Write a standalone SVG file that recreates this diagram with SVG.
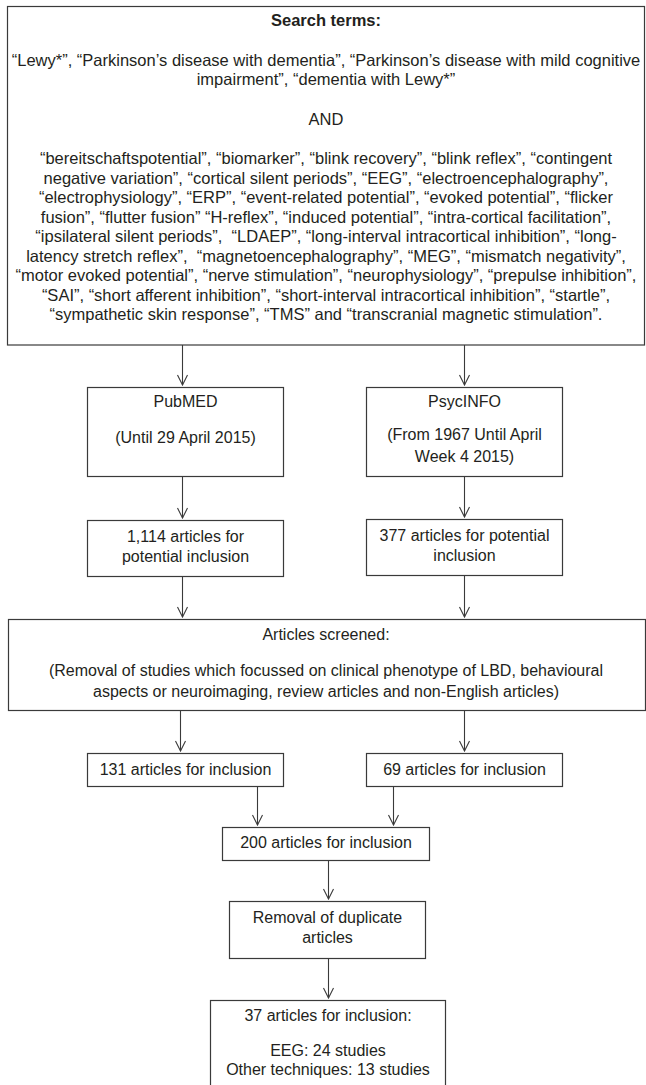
<svg xmlns="http://www.w3.org/2000/svg" width="646" height="1085" viewBox="0 0 646 1085">
<style>
.box{fill:#fff;stroke:#3a3a3a;stroke-width:1.2}
.t{font-family:"Liberation Sans",Arial,sans-serif;font-size:16px;fill:#231f20;text-anchor:middle}
.s{font-size:16.5px}
.b{font-weight:bold}
.c{stroke:#3a3a3a;stroke-width:1.1;fill:none;marker-end:url(#arr)}
</style>
<defs>
<marker id="arr" viewBox="0 0 12 12" refX="11" refY="6" markerWidth="12" markerHeight="12" markerUnits="userSpaceOnUse" orient="auto">
<path d="M1,1 L11,6 L1,11" fill="none" stroke="#3a3a3a" stroke-width="1.1"/>
</marker>
</defs>
<rect width="646" height="1085" fill="#fff"/>
<g id="search-terms">
<rect class="box" x="7.5" y="6.5" width="637" height="338.5"/>
<text class="t s b" x="326" y="26">Search terms:</text>
<text class="t s" x="326" y="65.5">“Lewy*”, “Parkinson’s disease with dementia”, “Parkinson’s disease with mild cognitive</text>
<text class="t s" x="326" y="85">impairment”, “dementia with Lewy*”</text>
<text class="t s" x="326" y="124.5">AND</text>
<text class="t s" x="326" y="164">“bereitschaftspotential”, “biomarker”, “blink recovery”, “blink reflex”, “contingent</text>
<text class="t s" x="326" y="183.5">negative variation”, “cortical silent periods”, “EEG”, “electroencephalography”,</text>
<text class="t s" x="326" y="203">“electrophysiology”, “ERP”, “event-related potential”, “evoked potential”, “flicker</text>
<text class="t s" x="326" y="222.5">fusion”, “flutter fusion” “H-reflex”, “induced potential”, “intra-cortical facilitation”,</text>
<text class="t s" x="326" y="242">“ipsilateral silent periods”, &#160;“LDAEP”, “long-interval intracortical inhibition”, “long-</text>
<text class="t s" x="326" y="261.5">latency stretch reflex”, &#160;“magnetoencephalography”, “MEG”, “mismatch negativity”,</text>
<text class="t s" x="326" y="281">“motor evoked potential”, “nerve stimulation”, “neurophysiology”, “prepulse inhibition”,</text>
<text class="t s" x="326" y="300.5">“SAI”, “short afferent inhibition”, “short-interval intracortical inhibition”, “startle”,</text>
<text class="t s" x="326" y="320">“sympathetic skin response”, “TMS” and “transcranial magnetic stimulation”.</text>
</g>
<g id="pubmed">
<rect class="box" x="87.5" y="387.5" width="196" height="89"/>
<text class="t" x="185.5" y="407">PubMED</text>
<text class="t" x="185.5" y="443">(Until 29 April 2015)</text>
</g>
<g id="psycinfo">
<rect class="box" x="366.5" y="387.5" width="196" height="89"/>
<text class="t" x="464.5" y="407">PsycINFO</text>
<text class="t" x="464.5" y="440">(From 1967 Until April</text>
<text class="t" x="464.5" y="462">Week 4 2015)</text>
</g>
<g id="pubmed-count">
<rect class="box" x="87.5" y="520.5" width="196" height="56"/>
<text class="t" x="185.5" y="542">1,114 articles for</text>
<text class="t" x="185.5" y="562">potential inclusion</text>
</g>
<g id="psycinfo-count">
<rect class="box" x="366.5" y="519.5" width="196" height="56"/>
<text class="t" x="464.5" y="541">377 articles for potential</text>
<text class="t" x="464.5" y="561">inclusion</text>
</g>
<g id="screened">
<rect class="box" x="8.5" y="619.5" width="637" height="91"/>
<text class="t" x="326" y="640">Articles screened:</text>
<text class="t" x="326" y="676">(Removal of studies which focussed on clinical phenotype of LBD, behavioural</text>
<text class="t" x="326" y="697">aspects or neuroimaging, review articles and non-English articles)</text>
</g>
<g id="pubmed-inclusion">
<rect class="box" x="87.5" y="753.5" width="196" height="33"/>
<text class="t" x="185.5" y="775">131 articles for inclusion</text>
</g>
<g id="psycinfo-inclusion">
<rect class="box" x="366.5" y="753.5" width="196" height="33"/>
<text class="t" x="464.5" y="775">69 articles for inclusion</text>
</g>
<g id="combined">
<rect class="box" x="222.5" y="827.5" width="207" height="33"/>
<text class="t" x="326" y="848">200 articles for inclusion</text>
</g>
<g id="duplicates">
<rect class="box" x="229.5" y="901.5" width="196" height="57"/>
<text class="t" x="327.5" y="923">Removal of duplicate</text>
<text class="t" x="327.5" y="943">articles</text>
</g>
<g id="final">
<rect class="box" x="210.5" y="1000.5" width="235" height="100"/>
<text class="t" x="328" y="1021">37 articles for inclusion:</text>
<text class="t" x="328" y="1056">EEG: 24 studies</text>
<text class="t" x="328" y="1075">Other techniques: 13 studies</text>
</g>
<g id="connectors">
<line class="c" x1="182.5" y1="345" x2="182.5" y2="385"/>
<line class="c" x1="464.5" y1="345" x2="464.5" y2="385"/>
<line class="c" x1="182.5" y1="477" x2="182.5" y2="518"/>
<line class="c" x1="464.5" y1="477" x2="464.5" y2="517"/>
<line class="c" x1="182.5" y1="577" x2="182.5" y2="617"/>
<line class="c" x1="464.5" y1="576" x2="464.5" y2="617"/>
<line class="c" x1="180.5" y1="711" x2="180.5" y2="751"/>
<line class="c" x1="464.5" y1="711" x2="464.5" y2="751"/>
<line class="c" x1="257.5" y1="787" x2="257.5" y2="825"/>
<line class="c" x1="393.5" y1="787" x2="393.5" y2="825"/>
<line class="c" x1="328.5" y1="861" x2="328.5" y2="899"/>
<line class="c" x1="328.5" y1="959" x2="328.5" y2="998"/>
</g>
</svg>
